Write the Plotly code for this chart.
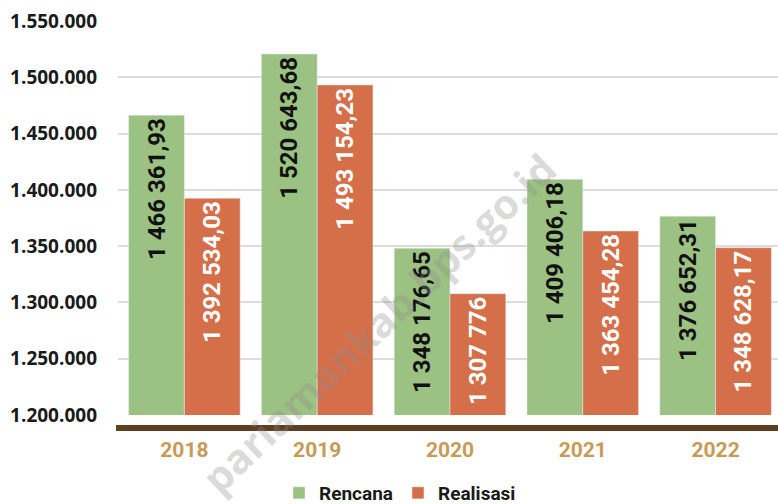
import plotly.graph_objects as go

years = ["2018", "2019", "2020", "2021", "2022"]
rencana = [1466361.93, 1520643.68, 1348176.65, 1409406.18, 1376652.31]
realisasi = [1392534.03, 1493154.23, 1307776.00, 1363454.28, 1348628.17]
y_ticks = [1200000, 1250000, 1300000, 1350000, 1400000, 1450000, 1500000, 1550000]


def fmt(v):
    whole = int(v)
    cents = round((v - whole) * 100)
    s = f"{whole:,}".replace(",", " ")
    if cents:
        s += f",{cents:02d}"
    return s


def tick(v):
    return f"{v:,}".replace(",", ".")


GREEN = "#9cc283"
ORANGE = "#d46f4a"
FONT = "Open Sans"
COND = "Roboto"

L, T, B = 118, 21, 89
PH = 504 - T - B
PW = 778 - L

fig = go.Figure()
fig.add_trace(go.Bar(
    x=years, y=rencana, name="Rencana", marker_color=GREEN,
    text=[fmt(v) for v in rencana], textposition="inside",
    insidetextanchor="end", textangle=-90,
    textfont=dict(color="#111111", size=24, family=COND, weight="bold"),
    cliponaxis=False,
))
fig.add_trace(go.Bar(
    x=years, y=realisasi, name="Realisasi", marker_color=ORANGE,
    text=[fmt(v) for v in realisasi], textposition="inside",
    insidetextanchor="end", textangle=-90,
    textfont=dict(color="#ffffff", size=24, family=COND, weight="bold"),
    cliponaxis=False,
))

fig.update_layout(
    width=778, height=504,
    margin=dict(l=L, r=0, t=T, b=B, autoexpand=False),
    paper_bgcolor="white", plot_bgcolor="white",
    barmode="group", bargap=0.16, bargroupgap=0,
    font=dict(family=FONT),
    legend=dict(orientation="h", x=(400 - L) / PW, xanchor="center",
                y=-(493 - 415) / PH, yanchor="middle",
                font=dict(size=19, color="#1a1a1a", family=COND, weight="bold"),
                itemwidth=30, traceorder="normal"),
    xaxis=dict(range=[-0.5, 4.47], showgrid=False, showline=False, zeroline=False,
               automargin=False,
               tickfont=dict(size=21, color="#c99a56", family=COND, weight="bold"),
               ticklabelstandoff=20),
    yaxis=dict(range=[1200000, 1550000], tickvals=y_ticks, ticktext=[tick(v) for v in y_ticks],
               showgrid=True, gridcolor="#dcdcdc", gridwidth=2, zeroline=False, showline=False,
               automargin=False,
               tickfont=dict(size=19, color="#1a1a1a", family=FONT, weight="bold"),
               ticklabelstandoff=20),
    shapes=[dict(type="line", xref="paper", yref="paper", x0=-0.003, x1=1.0,
                 y0=-13 / PH, y1=-13 / PH, line=dict(color="#5e3f20", width=6))],
    annotations=[dict(text="pariamankab.bps.go.id", xref="paper", yref="paper",
                      x=(378 - L) / PW, y=(415 - 323) / PH, xanchor="center", yanchor="middle",
                      showarrow=False,
                      textangle=-43.6, font=dict(size=41, color="rgba(140,140,140,0.33)",
                                                 family=FONT, weight="bold"))],
)

fig.write_html("out.html", config={"displayModeBar": False},
               post_script="document.body.style.margin='0';")
